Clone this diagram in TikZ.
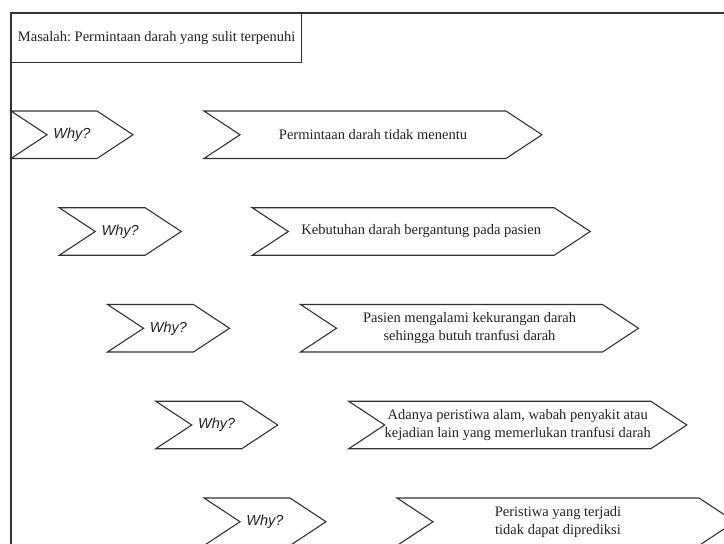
\documentclass[tikz,border=0pt]{standalone}
\usepackage{fontspec}
\setmainfont{Liberation Serif}
\newfontfamily\whyfont{Liberation Sans}
\usetikzlibrary{shapes.symbols}
\frenchspacing

\definecolor{linegray}{HTML}{333333}
\definecolor{textgray}{HTML}{222222}

\tikzset{
  chev/.style={signal, signal from=west, signal to=east, draw=linegray,
    line width=1.1pt, minimum height=47.5pt, inner sep=0pt,
    signal pointer angle=66.8, text=textgray},
  whybox/.style={chev, minimum width=122pt,
    font=\whyfont\itshape\fontsize{14.5}{17}\selectfont},
  causebox/.style={chev, minimum width=338pt, align=center,
    font=\fontsize{14.5}{18}\selectfont},
  titlebox/.style={draw=linegray, line width=1.3pt, anchor=north west,
    minimum width=290pt, minimum height=49pt, inner xsep=3pt,
    text=textgray, font=\fontsize{14.5}{17}\selectfont},
}

\begin{document}
\begin{tikzpicture}[x=1pt,y=-1pt]
  \useasboundingbox (0,0) rectangle (724,544);
  \clip (0,0) rectangle (724,544);

  % outer frame, open to the right and bottom
  \draw[linegray, line width=1.7pt] (11,600) -- (11,13) -- (800,13);

  % problem statement
  \node[titlebox] (title) at (11,13) {Masalah: Permintaan darah yang sulit terpenuhi};

  % the five "why" levels, each stepping right and down
  \node[whybox]   (w1) at ( 72.00,134.75) {Why?};
  \node[causebox] (c1) at (373.00,134.75) {Permintaan darah tidak menentu};

  \node[whybox]   (w2) at (120.25,231.50) {Why?};
  \node[causebox] (c2) at (421.25,231.50) {Kebutuhan darah bergantung pada pasien};

  \node[whybox]   (w3) at (168.50,328.25) {Why?};
  \node[causebox] (c3) at (469.50,328.25) {Pasien mengalami kekurangan darah\\sehingga butuh tranfusi darah};

  \node[whybox]   (w4) at (216.75,425.00) {Why?};
  \node[causebox] (c4) at (517.75,425.00) {Adanya peristiwa alam, wabah penyakit atau\\kejadian lain yang memerlukan tranfusi darah};

  \node[whybox]   (w5) at (265.00,521.75) {Why?};
  \node[causebox] (c5) at (566.00,521.75) {};
  \node[align=center, text=textgray, font=\fontsize{14.5}{18}\selectfont]
    (c5text) at ([xshift=-8pt]c5.center) {Peristiwa yang terjadi\\tidak dapat diprediksi};
\end{tikzpicture}
\end{document}
